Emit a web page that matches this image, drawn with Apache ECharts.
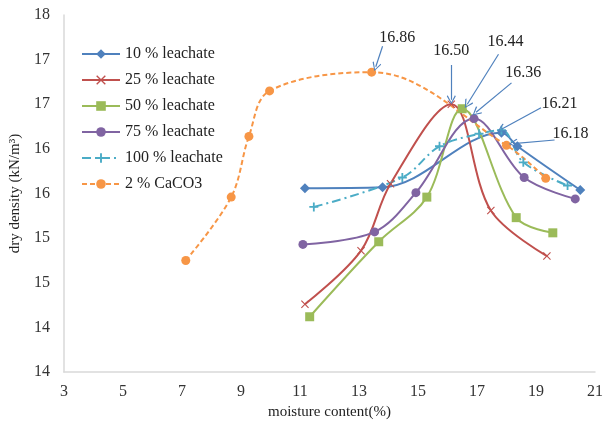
<!DOCTYPE html>
<html>
<head>
<meta charset="utf-8">
<script src="https://cdn.jsdelivr.net/npm/echarts@6/dist/echarts.min.js"></script>
<style>
  html, body { margin: 0; padding: 0; background: #fff; }
  #chart { width: 606px; height: 425px; }
</style>
</head>
<body>
<div id="chart"></div>
<script>
// data: [moisture %, dry density]
const seriesNames = ['10 % leachate', '25 % leachate', '50 % leachate', '75 % leachate', '100 % leachate', '2 % CaCO3'];
const leachate10 = [[11.17, 16.06], [13.8, 16.07], [17.83, 16.68], [18.37, 16.53], [20.5, 16.04]];
const leachate25 = [[11.17, 14.76], [13.07, 15.36], [14.07, 16.11], [16.13, 17.0], [17.47, 15.81], [19.37, 15.30]];
const leachate50 = [[11.33, 14.62], [13.67, 15.46], [15.3, 15.96], [16.5, 16.95], [18.33, 15.73], [19.57, 15.56]];
const leachate75 = [[11.1, 15.43], [13.53, 15.57], [14.93, 16.01], [16.9, 16.84], [18.6, 16.18], [20.33, 15.94]];
const leachate100 = [[11.47, 15.85], [14.47, 16.18], [15.73, 16.53], [17.07, 16.67], [17.83, 16.71], [18.57, 16.35], [20.07, 16.09]];
const caco3 = [[7.13, 15.25], [8.67, 15.96], [9.27, 16.64], [9.97, 17.15], [13.43, 17.36], [18.0, 16.54], [19.33, 16.17]];

// peak annotations: text, text position, arrow start, arrow end
const peakTexts = ['16.86', '16.50', '16.44', '16.36', '16.21', '16.18'];
const peakTextAt = [[14.3, 17.75], [16.13, 17.6], [17.97, 17.7], [18.57, 17.35], [19.8, 17.0], [20.17, 16.67]];
const arrowFrom = [[13.8, 17.65], [16.13, 17.44], [17.73, 17.56], [18.17, 17.24], [19.17, 16.96], [19.63, 16.6]];
const arrowTo = [[13.57, 17.42], [16.13, 17.05], [16.67, 17.0], [16.97, 16.91], [17.83, 16.72], [18.23, 16.56]];

const chart = echarts.init(document.getElementById('chart'));
const font = "'Liberation Serif', 'Times New Roman', serif";

const crossPath = 'path://M1,0 L5,4 L9,0 L10,1 L6,5 L10,9 L9,10 L5,6 L1,10 L0,9 L4,5 L0,1 Z';
const plusPath = 'path://M4,0 H6 V4 H10 V6 H6 V10 H4 V6 H0 V4 H4 Z';
const chevron = 'path://M5,0 L10,8 L9,9 L5,2 L1,9 L0,8 Z';

function line(name, data, color, symbol, size, dash) {
    return {
        name: name,
        type: 'line',
        data: data,
        smooth: 0.35,
        symbol: symbol,
        symbolSize: size,
        showAllSymbol: true,
        color: color,
        itemStyle: { color: color },
        lineStyle: { color: color, width: 2, type: dash || 'solid' },
        emphasis: { disabled: true },
        z: 3
    };
}

const series = [
    line(seriesNames[0], leachate10, '#4F81BD', 'diamond', 10),
    line(seriesNames[1], leachate25, '#C0504D', crossPath, 8),
    line(seriesNames[2], leachate50, '#9BBB59', 'rect', 9),
    line(seriesNames[3], leachate75, '#8064A2', 'circle', 9),
    line(seriesNames[4], leachate100, '#4BACC6', plusPath, 9, [9, 4, 2, 4]),
    line(seriesNames[5], caco3, '#F79646', 'circle', 9, [5, 3])
];

// arrows and their numbers hang on the first series
series[0].markLine = {
    silent: true,
    symbol: ['none', chevron],
    symbolSize: [9, 9],
    label: { show: false },
    lineStyle: { color: '#4F81BD', width: 1.2, type: 'solid' },
    data: arrowFrom.map(function (p, i) {
        return [{ coord: p }, { coord: arrowTo[i] }];
    })
};
series[0].markPoint = {
    silent: true,
    symbol: 'rect',
    symbolSize: 1,
    itemStyle: { color: 'rgba(0,0,0,0)' },
    label: {
        show: true,
        position: 'inside',
        color: '#222',
        fontFamily: font,
        fontSize: 16
    },
    data: peakTexts.map(function (t, i) {
        return { coord: peakTextAt[i], value: t, label: { formatter: t } };
    })
};

const option = {
    backgroundColor: '#fff',
    animation: false,
    grid: { left: 58, right: 8, top: 15, bottom: 43 },
    legend: {
        orient: 'vertical',
        left: 76,
        top: 40,
        itemWidth: 38,
        itemHeight: 12,
        itemGap: 8,
        data: seriesNames,
        textStyle: { fontFamily: font, fontSize: 16, color: '#222', lineHeight: 18 }
    },
    xAxis: {
        type: 'value',
        min: 3,
        max: 21,
        interval: 2,
        name: 'moisture content(%)',
        nameLocation: 'middle',
        nameGap: 24,
        nameTextStyle: { fontFamily: font, fontSize: 15, color: '#222' },
        axisLine: { lineStyle: { color: '#d9d9d9', width: 1.5 } },
        axisTick: { show: false },
        splitLine: { show: false },
        axisLabel: { fontFamily: font, fontSize: 16, color: '#333', margin: 12 }
    },
    yAxis: {
        type: 'value',
        min: 14,
        max: 18,
        interval: 0.5,
        name: 'dry density (kN/m\u00B3)',
        nameLocation: 'middle',
        nameGap: 38,
        nameTextStyle: { fontFamily: font, fontSize: 15, color: '#222' },
        axisLine: { show: true, lineStyle: { color: '#d9d9d9', width: 1.5 } },
        axisTick: { show: false },
        splitLine: { show: false },
        axisLabel: {
            fontFamily: font, fontSize: 16, color: '#333', margin: 14,
            formatter: function (v) { return Math.floor(v); }
        }
    },
    series: series
};

chart.setOption(option);
</script>
</body>
</html>
